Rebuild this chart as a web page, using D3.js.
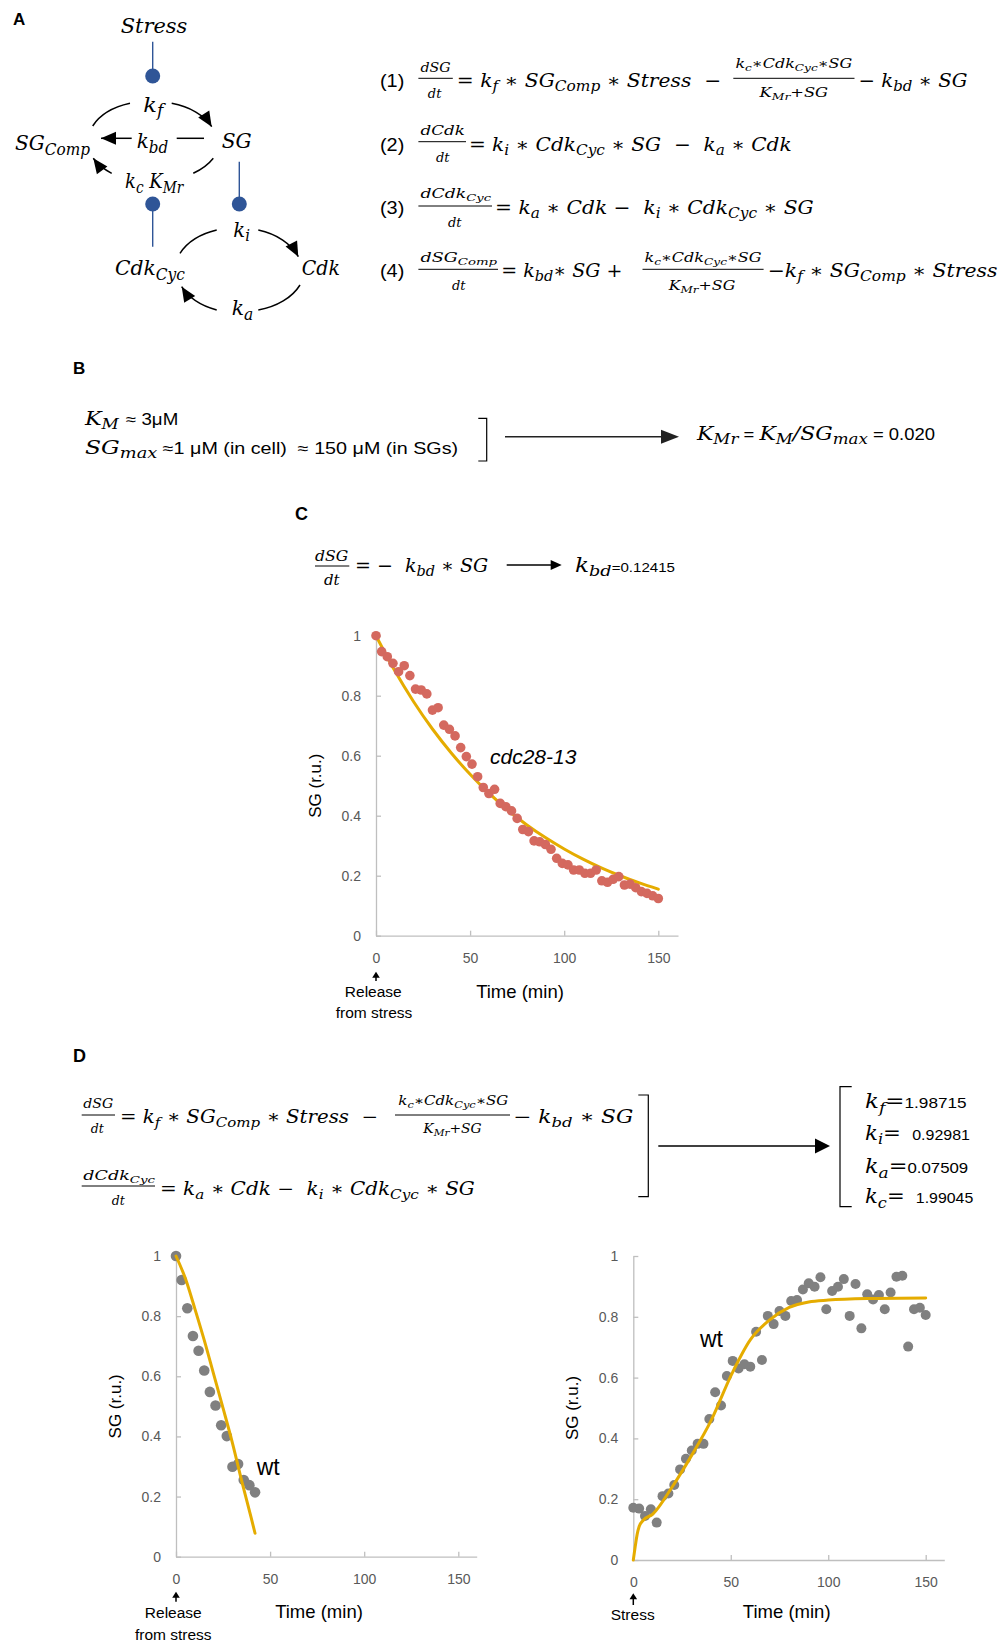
<!DOCTYPE html>
<html><head><meta charset="utf-8">
<script src="https://cdn.jsdelivr.net/npm/d3@7"></script>
<style>html,body{margin:0;padding:0;background:#fff;} svg{display:block;}</style>
</head><body>
<svg id="fig" width="1003" height="1642"></svg>
<script>
// ================= DATA =================
const cTimes = [0,3,6,9,12,15,18,21,24,27,30,33,36,39,42,45,48,51,54,57,60,63,66,69,72,75,78,81,84,87,90,93,96,99,102,105,108,111,114,117,120,123,126,129,132,135,138,141,144,147,150];
const cValues = [1.0,0.947,0.93,0.908,0.88,0.9,0.867,0.822,0.819,0.806,0.752,0.76,0.702,0.688,0.666,0.627,0.597,0.572,0.53,0.494,0.474,0.488,0.441,0.43,0.416,0.391,0.354,0.347,0.316,0.313,0.304,0.288,0.258,0.241,0.236,0.219,0.219,0.208,0.208,0.219,0.183,0.178,0.188,0.197,0.169,0.172,0.16,0.147,0.141,0.133,0.124];
const cFitTimes = [0,10,20,30,40,50,60,70,80,90,100,110,120,130,140,150];
const cFitValues = [1.0,0.883,0.780,0.689,0.609,0.538,0.475,0.419,0.370,0.327,0.289,0.255,0.225,0.199,0.176,0.155];

const wtReleaseTimes = [0,3,6,9,12,15,18,21,24,27,30,33,36,39,42];
const wtReleaseValues = [1.0,0.92,0.826,0.734,0.685,0.619,0.548,0.503,0.437,0.401,0.299,0.308,0.255,0.238,0.214];
const wtReleaseFitTimes = [0,5,10,15,20,25,30,35,40,42];
const wtReleaseFitValues = [1.0,0.925,0.825,0.72,0.607,0.494,0.378,0.25,0.128,0.078];

const wtStressTimes = [0,3,6,9,12,15,18,21,24,27,30,33,36,39,42,45,48,51,54,57,60,63,66,69,72,75,78,81,84,87,90,93,96,99,102,105,108,111,114,117,120,123,126,129,132,135,138,141,144,147,150];
const wtStressValues = [0.172,0.169,0.145,0.167,0.123,0.21,0.219,0.247,0.298,0.333,0.36,0.382,0.382,0.464,0.552,0.508,0.605,0.655,0.63,0.644,0.636,0.751,0.658,0.803,0.776,0.819,0.803,0.852,0.855,0.89,0.91,0.899,0.93,0.825,0.885,0.899,0.924,0.803,0.908,0.762,0.874,0.857,0.872,0.825,0.88,0.932,0.935,0.702,0.825,0.83,0.806];
const wtStressFitTimes = [0,1,2,3,5,10,20,30,40,50,60,70,80,90,100,120,150];
const wtStressFitValues = [0,0.045,0.085,0.11,0.13,0.151,0.241,0.345,0.46,0.605,0.724,0.79,0.831,0.849,0.855,0.86,0.862];

const xTicks = [0,50,100,150];
const xTickLabels = ["0","50","100","150"];
const yTicks = [0,0.2,0.4,0.6,0.8,1];
const yTickLabels = ["0","0.2","0.4","0.6","0.8","1"];

const kbdValue = "0.12415";
const kmrValue = "0.020";
const fitParamNames = ["k_{f}=", "k_{i}= ", "k_{a}=", "k_{c}= "];
const fitParamValues = ["1.98715", " 0.92981", "0.07509", " 1.99045"];

// ================= STYLE =================
const MATH = "'DejaVu Serif', 'Liberation Serif', serif";
const SANS = "'Liberation Sans', Arial, sans-serif";
const GOLD = "#E5AC00", CORAL = "#D4695F", GRAY = "#808080", AXIS = "#BFBFBF", TICK = "#595959", BLUE = "#2F5597";

const svg = d3.select("#fig");
const defs = svg.append("defs");
defs.append("marker").attr("id","ah").attr("viewBox","-16 -8 17 16").attr("refX",0).attr("refY",0)
  .attr("markerWidth",17).attr("markerHeight",16).attr("markerUnits","userSpaceOnUse").attr("orient","auto")
  .append("path").attr("d","M0,0L-15,-6.5L-15,6.5Z").attr("fill","#000");

function rich(spec, o) {
  const g = svg.append("g");
  const t = g.append("text").attr("fill", o.fill || "#000").style("white-space","pre");
  const ms = o.size || 18, ss = o.ssize || ms * 0.85;
  let sans = false, off = 0, buf = "", i = 0;
  const tokens = [];
  const flush = () => { if (buf) { tokens.push({t: buf, sans, sub: false}); buf = ""; } };
  while (i < spec.length) {
    const c = spec[i];
    if (c === "|") { flush(); sans = !sans; i++; }
    else if (c === "_" && spec[i+1] === "{") {
      flush(); const j = spec.indexOf("}", i);
      tokens.push({t: spec.slice(i+2, j), sans, sub: true}); i = j + 1;
    } else { buf += c; i++; }
  }
  flush();
  tokens.forEach(tk => {
    const base = tk.sans ? ss : ms;
    const fs = tk.sub ? base * 0.76 : base;
    const target = tk.sub ? base * 0.22 : 0;
    t.append("tspan").attr("font-family", tk.sans ? SANS : MATH)
      .attr("font-style", tk.sans ? "normal" : "italic")
      .attr("font-weight", o.bold ? "bold" : "normal")
      .attr("font-size", fs).attr("dy", target - off).text(tk.t);
    off = target;
  });
  const w = t.node().getComputedTextLength();
  const sx = o.w ? o.w / w : 1;
  const W = w * sx;
  let x0 = o.x;
  if (o.anchor === "middle") x0 = o.x - W / 2;
  g.attr("transform", `translate(${x0},${o.y}) scale(${sx},1)`);
  return g;
}
function label(txt, x, y, o = {}) {
  return svg.append("text").attr("x", x).attr("y", y).text(txt)
    .attr("font-family", o.family || SANS).attr("font-size", o.size || 16)
    .attr("font-weight", o.weight || "normal").attr("font-style", o.style || "normal")
    .attr("text-anchor", o.anchor || "start").attr("fill", o.fill || "#000");
}
function hline(x1, x2, y, w = 1, c = "#000") {
  svg.append("line").attr("x1", x1).attr("x2", x2).attr("y1", y).attr("y2", y).attr("stroke", c).attr("stroke-width", w);
}
function arrow(x1, x2, y, len, half, w = 1.3, c = "#000") {
  hline(x1, x2 - len + 1, y, w, c);
  svg.append("path").attr("d", `M${x2},${y}L${x2-len},${y-half}L${x2-len},${y+half}Z`).attr("fill", c);
}
function bracket(d) {
  svg.append("path").attr("d", d).attr("fill","none").attr("stroke","#000").attr("stroke-width",1.2);
}

// ================= PANEL A =================
label("A", 13, 25, {weight: "bold", size: 17});
const dg = 21;
rich("Stress", {x: 120.7, y: 33.3, w: 66.7, size: dg});
rich("k_{f}", {x: 143.3, y: 111.7, w: 20, size: dg});
rich("SG_{Comp}", {x: 15, y: 150, w: 75, size: dg});
rich("k_{bd}", {x: 136.7, y: 148.3, w: 31.6, size: dg});
rich("SG", {x: 221.7, y: 148.3, w: 30, size: dg});
rich("k_{c} K_{Mr}", {x: 125, y: 188.3, w: 58.3, size: dg});
rich("k_{i}", {x: 233.3, y: 236.7, w: 16.7, size: dg});
rich("Cdk_{Cyc}", {x: 115, y: 275, w: 70, size: dg});
rich("Cdk", {x: 301.7, y: 275, w: 38.3, size: dg});
rich("k_{a}", {x: 231.7, y: 315, w: 21.6, size: dg});

function arc(d, head) {
  const p = svg.append("path").attr("d", d).attr("fill","none").attr("stroke","#000").attr("stroke-width",1.5);
  if (head) p.attr("marker-end","url(#ah)");
}
arc("M92.7,126 A62,40 0 0,1 130,103.3");
arc("M171.7,103.3 A62,40 0 0,1 211.7,126.7", true);
arc("M213.3,158.3 A62,42 0 0,1 193.3,173.3");
arc("M111.7,173.3 A62,42 0 0,1 93.3,158.3", true);
arc("M131.7,138.3 L101,138.3", true);
arc("M176.7,138.3 L204,138.3");
arc("M180,253.3 A62,44 0 0,1 216.7,230");
arc("M258.3,230 A62,44 0 0,1 298.3,256.7", true);
arc("M300,285 A62,44 0 0,1 258.3,310");
arc("M216.7,310 A62,44 0 0,1 181.7,286.7", true);

function blueLine(x, y1, y2) { svg.append("line").attr("x1",x).attr("x2",x).attr("y1",y1).attr("y2",y2).attr("stroke",BLUE).attr("stroke-width",1.4); }
function blueDot(x, y) { svg.append("circle").attr("cx",x).attr("cy",y).attr("r",7.5).attr("fill",BLUE); }
blueLine(152.7, 41.7, 72); blueDot(152.7, 76);
blueLine(152.7, 204, 246.7); blueDot(152.7, 204);
blueLine(239.3, 161.7, 204); blueDot(239.3, 204);

// equations (1)-(4)
const em = 19, ef = 13;
rich("|(1)", {x: 380, y: 86.7, w: 24.3, size: em, ssize: 19});
rich("dSG", {x: 420.5, y: 71.7, w: 30.2, size: ef});
hline(418.4, 452.8, 78.3);
rich("dt", {x: 434.6, y: 98.3, size: ef, anchor: "middle"});
rich("= k_{f} ∗ SG_{Comp} ∗ Stress  −", {x: 456.8, y: 86.7, w: 264.4, size: em});
rich("k_{c}∗Cdk_{Cyc}∗SG", {x: 735.4, y: 68.3, w: 117, size: ef});
hline(733.3, 854.5, 78.3);
rich("K_{Mr}+SG", {x: 759.6, y: 96.7, w: 68.6, size: ef});
rich("− k_{bd} ∗ SG", {x: 858.5, y: 86.7, w: 109, size: em});

rich("|(2)", {x: 380, y: 151, w: 24.3, size: em, ssize: 19});
rich("dCdk", {x: 420.5, y: 135, w: 44.4, size: ef});
hline(418.4, 466, 141.7);
rich("dt", {x: 442.7, y: 161.7, size: ef, anchor: "middle"});
rich("= k_{i} ∗ Cdk_{Cyc} ∗ SG  −  k_{a} ∗ Cdk", {x: 468.9, y: 151, w: 323, size: em});

rich("|(3)", {x: 380, y: 214, w: 24.3, size: em, ssize: 19});
rich("dCdk_{Cyc}", {x: 420.5, y: 198.3, w: 70.6, size: ef});
hline(418.4, 492, 206);
rich("dt", {x: 454.8, y: 226.7, size: ef, anchor: "middle"});
rich("= k_{a} ∗ Cdk −  k_{i} ∗ Cdk_{Cyc} ∗ SG", {x: 495, y: 214, w: 319, size: em});

rich("|(4)", {x: 380, y: 276.7, w: 24.3, size: em, ssize: 19});
rich("dSG_{Comp}", {x: 420.5, y: 261.7, w: 76.7, size: ef});
hline(418.4, 498, 269.3);
rich("dt", {x: 458.8, y: 290, size: ef, anchor: "middle"});
rich("= k_{bd}∗ SG + ", {x: 501.2, y: 276.7, w: 127.2, size: em});
rich("k_{c}∗Cdk_{Cyc}∗SG", {x: 644.5, y: 262, w: 117.1, size: ef});
hline(642.5, 763.6, 269.3);
rich("K_{Mr}+SG", {x: 668.7, y: 290, w: 66.7, size: ef});
rich("−k_{f} ∗ SG_{Comp} ∗ Stress", {x: 767.7, y: 276.7, w: 230, size: em});

// ================= PANEL B =================
label("B", 73, 374, {weight: "bold", size: 17});
rich("K_{M} |≈ 3μM", {x: 85, y: 425, w: 93.3, size: 19, ssize: 16});
rich("SG_{max}| ≈1 μM (in cell)  ≈ 150 μM (in SGs)", {x: 85, y: 454, w: 373.3, size: 19, ssize: 16});
bracket("M478.3,418.3 H486.7 V461 H478.3");
arrow(505, 679, 436.7, 18, 7, 1.5, "#222");
rich("K_{Mr}| = |K_{M}/SG_{max}| = " + kmrValue, {x: 697, y: 440, w: 238, size: 19, ssize: 16});

// ================= PANEL C =================
label("C", 295, 520, {weight: "bold", size: 18});
rich("dSG", {x: 315, y: 560.5, w: 33.3, size: 15});
hline(315, 349.3, 566);
rich("dt", {x: 331.7, y: 585, size: 15, anchor: "middle"});
rich("= −  k_{bd} ∗ SG", {x: 355, y: 571.7, w: 133.3, size: 19});
arrow(506.7, 561.7, 565, 11, 5, 1.3);
rich("k_{bd}|=" + kbdValue, {x: 575, y: 572, w: 100, size: 20, ssize: 13});

// ================= CHART HELPER =================
function chart(o) {
  const xMaxDom = 150 * (o.xEnd - o.x0) / (o.x150 - o.x0);
  const x = d3.scaleLinear().domain([0, xMaxDom]).range([o.x0, o.xEnd]);
  const y = d3.scaleLinear().domain([0, 1]).range([o.y0, o.y1]);
  const g = svg.append("g");
  const ax = g.append("g").attr("transform", `translate(0,${o.y0})`)
    .call(d3.axisBottom(x).tickValues(xTicks).tickFormat((d,i) => xTickLabels[i]).tickSizeInner(-5).tickSizeOuter(0).tickPadding(17));
  const ay = g.append("g").attr("transform", `translate(${o.x0},0)`)
    .call(d3.axisLeft(y).tickValues(yTicks).tickFormat((d,i) => yTickLabels[i]).tickSizeInner(-5).tickSizeOuter(0).tickPadding(15));
  [ax, ay].forEach(a => {
    a.attr("font-family", SANS).attr("font-size", 14);
    a.select(".domain").attr("stroke", AXIS).attr("stroke-width", 1.3);
    a.selectAll(".tick line").attr("stroke", AXIS).attr("stroke-width", 1.3);
    a.selectAll(".tick text").attr("fill", TICK);
  });
  const line = d3.line().x(d => x(d[0])).y(d => y(d[1])).curve(d3.curveMonotoneX);
  const fit = d3.zip(o.fitT, o.fitV);
  const pts = d3.zip(o.t, o.v);
  const drawLine = () => g.append("path").attr("d", line(fit)).attr("fill","none").attr("stroke",GOLD).attr("stroke-width",3).attr("stroke-linecap","round");
  const drawDots = () => g.append("g").selectAll("circle").data(pts).join("circle")
    .attr("cx", d => x(d[0])).attr("cy", d => y(d[1])).attr("r", o.r).attr("fill", o.color);
  if (o.lineOnTop) { drawDots(); drawLine(); } else { drawLine(); drawDots(); }
  svg.append("text").attr("transform", `translate(${o.yLabX},${(o.y0 + o.y1) / 2}) rotate(-90)`)
    .attr("text-anchor","middle").attr("font-family",SANS).attr("font-size",17).text("SG (r.u.)");
  label("Time (min)", o.timeX, o.timeY, {size: 18.5, anchor: "middle"});
  const ax0 = x(0);
  svg.append("line").attr("x1",ax0).attr("x2",ax0).attr("y1",o.arrTip+4).attr("y2",o.arrEnd).attr("stroke","#000").attr("stroke-width",1.5);
  svg.append("path").attr("d",`M${ax0},${o.arrTip}L${ax0-3.8},${o.arrTip+6}L${ax0+3.8},${o.arrTip+6}Z`).attr("fill","#000");
  o.evLabels.forEach(l => label(l[0], l[1], l[2], {size: 15.5, anchor: "middle"}));
  return {x, y};
}

chart({x0: 376, x150: 658.3, xEnd: 678, y0: 935.7, y1: 635.7, t: cTimes, v: cValues, fitT: cFitTimes, fitV: cFitValues,
  r: 4.8, color: CORAL, lineOnTop: false, yLabX: 321, timeX: 520, timeY: 998,
  arrTip: 971.7, arrEnd: 981, evLabels: [["Release", 373.3, 996.7], ["from stress", 374, 1018.3]]});
label("cdc28-13", 490, 764, {size: 21, style: "italic"});

// ================= PANEL D =================
label("D", 73, 1061.7, {weight: "bold", size: 18});
const dm = 18, dfr = 12.5;
rich("dSG", {x: 83.3, y: 1108.3, w: 30, size: dfr});
hline(81.7, 115, 1115);
rich("dt", {x: 97.3, y: 1133.3, size: dfr, anchor: "middle"});
rich("= k_{f} ∗ SG_{Comp} ∗ Stress  −", {x: 120, y: 1122.7, w: 258.3, size: dm});
rich("k_{c}∗Cdk_{Cyc}∗SG", {x: 398.3, y: 1105, w: 110, size: dfr});
hline(395, 510, 1115);
rich("K_{Mr}+SG", {x: 423.3, y: 1133.3, w: 58.4, size: dfr});
rich("− k_{bd} ∗ SG", {x: 513.3, y: 1122.7, w: 120, size: dm});
rich("dCdk_{Cyc}", {x: 83.3, y: 1180, w: 71.7, size: dfr});
hline(81.7, 155, 1186);
rich("dt", {x: 118.3, y: 1205, size: dfr, anchor: "middle"});
rich("= k_{a} ∗ Cdk −  k_{i} ∗ Cdk_{Cyc} ∗ SG", {x: 160, y: 1195, w: 315, size: dm});
bracket("M638.3,1095 H648.3 V1196.7 H638.3");
arrow(658.3, 830, 1146, 15, 7.5, 1.5);
bracket("M851.7,1086.7 H840 V1206.7 H851.7");
const paramY = [1108.3, 1140, 1173.3, 1203.3];
const paramW = [101.7, 105, 103.3, 108.3];
fitParamNames.forEach((n, i) => rich(n + "|" + fitParamValues[i], {x: 865, y: paramY[i], w: paramW[i], size: 20, ssize: 15}));

chart({x0: 176, x150: 458.3, xEnd: 476.7, y0: 1556.7, y1: 1256, t: wtReleaseTimes, v: wtReleaseValues,
  fitT: wtReleaseFitTimes, fitV: wtReleaseFitValues, r: 5.3, color: GRAY, lineOnTop: true, yLabX: 121,
  timeX: 319, timeY: 1618, arrTip: 1591.7, arrEnd: 1601.7,
  evLabels: [["Release", 173.3, 1618.3], ["from stress", 173.3, 1640]]});
label("wt", 256.7, 1475, {size: 23});

chart({x0: 633.3, x150: 925.7, xEnd: 944.3, y0: 1560, y1: 1256, t: wtStressTimes, v: wtStressValues,
  fitT: wtStressFitTimes, fitV: wtStressFitValues, r: 5, color: GRAY, lineOnTop: true, yLabX: 578,
  timeX: 786.7, timeY: 1618, arrTip: 1593.3, arrEnd: 1605,
  evLabels: [["Stress", 632.7, 1620]]});
label("wt", 700, 1347, {size: 23});
</script>
</body></html>
